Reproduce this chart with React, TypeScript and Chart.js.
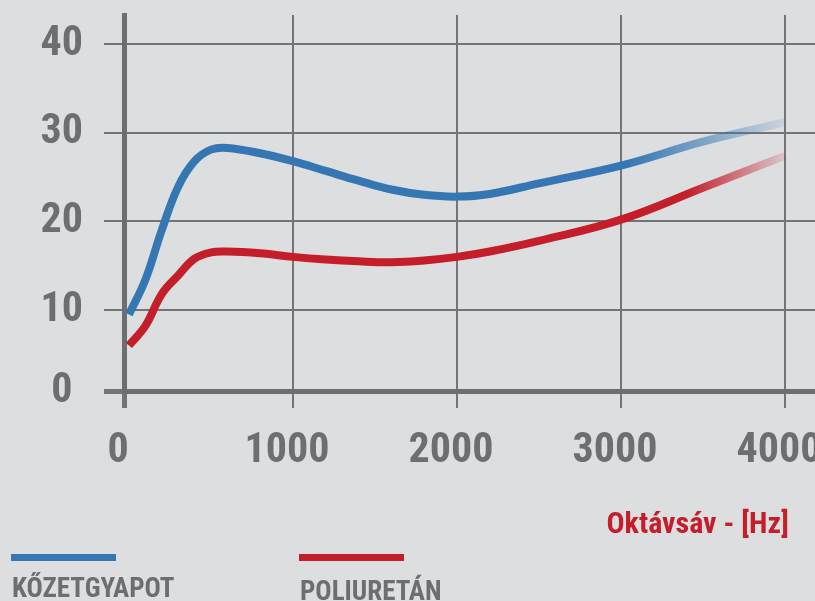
import React, { useEffect, useRef } from "react";
import { Chart, registerables } from "chart.js";

Chart.register(...registerables);

// ---- data ----
const frequencies = [0, 100, 200, 300, 400, 500, 600, 800, 1000, 1200, 1400, 1600, 1800, 2000, 2200, 2500, 3000, 3500, 4000];
const kozetgyapot = [9.5, 13.4, 19.0, 23.9, 26.8, 28.1, 28.3, 27.7, 26.8, 25.7, 24.6, 23.6, 23.0, 22.8, 23.1, 24.3, 26.3, 29.0, 31.2];
const poliuretan = [6.0, 8.2, 11.8, 13.9, 15.8, 16.5, 16.6, 16.4, 16.0, 15.7, 15.5, 15.4, 15.6, 16.0, 16.6, 17.8, 20.2, 23.8, 27.4];
const seriesLabels = ["KŐZETGYAPOT", "POLIURETÁN"];
const xTickValues = [0, 1000, 2000, 3000, 4000];
const yTickValues = [0, 10, 20, 30, 40];
const xAxisTitle = "Oktávsáv - [Hz]";

// ---- styles ----
const FONT = '"Roboto Condensed", "Liberation Sans Narrow", "DejaVu Sans Condensed", Roboto, sans-serif';
const BG = "#dddee0";
const GRID = "#737477";
const AXIS = "#6d6e71";
const TEXT = "#6d6e71";
const BLUE = "#3577b3";
const BLUE_RGB = "53,119,179";
const RED = "#c41e2b";
const RED_RGB = "196,30,43";

function fade(color: string, rgb: string, startFrac: number, endAlpha: number) {
  return (ctx: any) => {
    const chart = ctx.chart;
    const area = chart.chartArea;
    const xs = chart.scales && chart.scales.x;
    if (!area || !xs) return color;
    const x0 = xs.getPixelForValue(frequencies[0]);
    const x1 = xs.getPixelForValue(frequencies[frequencies.length - 1]);
    const g = chart.ctx.createLinearGradient(x0, 0, x1, 0);
    g.addColorStop(0, color);
    g.addColorStop(startFrac, color);
    g.addColorStop(1, `rgba(${rgb},${endAlpha})`);
    return g;
  };
}

const legendPlugin = {
  id: "customLegend",
  afterDraw(chart: any) {
    const c = chart.ctx;
    c.save();
    const xs = chart.scales.x;
    // x axis title
    c.font = `bold 30px ${FONT}`;
    c.fillStyle = RED;
    c.textAlign = "right";
    c.textBaseline = "alphabetic";
    c.fillText(xAxisTitle, xs.getPixelForValue(xTickValues[xTickValues.length - 1]) + 4, 533);
    // legend
    const starts = [11, 299];
    chart.data.datasets.forEach((ds: any, i: number) => {
      const x = starts[i];
      c.fillStyle = ds.legendColor;
      c.fillRect(x, 554, 105, 7);
      c.font = `bold 27px ${FONT}`;
      c.fillStyle = TEXT;
      c.textAlign = "left";
      c.fillText(ds.label, x + 1, i === 0 ? 597 : 600);
    });
    c.restore();
  },
};

export default function App() {
  const canvasRef = useRef<HTMLCanvasElement | null>(null);

  useEffect(() => {
    const canvas = canvasRef.current;
    if (!canvas) return;
    const chart = new Chart(canvas, {
      type: "line",
      data: {
        datasets: [
          {
            label: seriesLabels[0],
            data: frequencies.map((f, i) => ({ x: f, y: kozetgyapot[i] })),
            borderColor: fade(BLUE, BLUE_RGB, 0.76, 0.1),
            legendColor: BLUE,
            borderWidth: 8,
            pointRadius: 0,
            tension: 0.4,
            fill: false,
          } as any,
          {
            label: seriesLabels[1],
            data: frequencies.map((f, i) => ({ x: f, y: poliuretan[i] })),
            borderColor: fade(RED, RED_RGB, 0.85, 0.12),
            legendColor: RED,
            borderWidth: 8,
            pointRadius: 0,
            tension: 0.4,
            fill: false,
          } as any,
        ],
      },
      options: {
        animation: false,
        responsive: false,
        layout: { padding: { top: 15, left: 0, right: 0, bottom: 0 } },
        plugins: { legend: { display: false }, tooltip: { enabled: false } },
        scales: {
          x: {
            type: "linear",
            min: -30,
            max: 4183,
            afterBuildTicks: (s: any) => {
              s.ticks = xTickValues.map((v) => ({ value: v === 0 ? s.min : v }));
            },
            afterFit: (s: any) => {
              s.height = 210;
              s.paddingLeft = 0;
              s.paddingRight = 0;
            },
            grid: {
              color: GRID,
              lineWidth: (c: any) => (c.index === 0 ? 5 : 2),
              tickLength: 17,
            },
            border: { display: true, color: AXIS, width: 5 },
            ticks: {
              color: TEXT,
              font: { family: FONT, size: 42, weight: "bold" },
              padding: 18,
              labelOffset: -6,
              autoSkip: false,
              maxRotation: 0,
              callback: (_v: any, i: number) => String(xTickValues[i]),
            },
          },
          y: {
            type: "linear",
            min: 0.86,
            max: 43.3,
            afterBuildTicks: (s: any) => {
              s.ticks = yTickValues.map((v) => ({ value: v === 0 ? s.min : v }));
            },
            afterFit: (s: any) => {
              s.width = 124;
              s.paddingTop = 0;
              s.paddingBottom = 0;
            },
            grid: {
              color: GRID,
              lineWidth: (c: any) => (c.index === 0 ? 5 : 2),
              tickLength: 20,
            },
            border: { display: true, color: AXIS, width: 5 },
            ticks: {
              color: TEXT,
              font: { family: FONT, size: 42, weight: "bold" },
              padding: 21,
              crossAlign: "center",
              autoSkip: false,
              callback: (_v: any, i: number) => String(yTickValues[i]),
            },
          },
        },
      } as any,
      plugins: [legendPlugin],
    });
    return () => chart.destroy();
  }, []);

  return (
    <div style={{ position: "fixed", left: 0, top: 0, width: 815, height: 601, background: BG, overflow: "hidden" }}>
      <canvas ref={canvasRef} width={815} height={601} style={{ display: "block", width: 815, height: 601 }} />
    </div>
  );
}
